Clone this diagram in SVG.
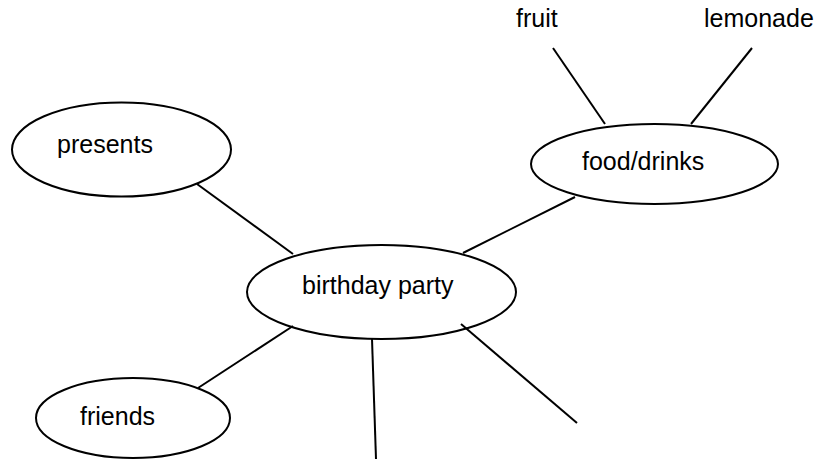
<svg xmlns="http://www.w3.org/2000/svg" width="817" height="459" viewBox="0 0 817 459">
<style>
.n{fill:#fff;stroke:#000;stroke-width:2}
.c line{stroke:#000;stroke-width:2}
text{font-family:"Liberation Sans",Arial,sans-serif;font-size:25px;fill:#000}
</style>
<rect width="817" height="459" fill="#fff"/>
<g id="presents"><ellipse class="n" cx="121.5" cy="149.5" rx="109.5" ry="47"/><text x="57" y="153">presents</text></g>
<g id="birthday-party"><ellipse class="n" cx="381.5" cy="292" rx="134.5" ry="47"/><text x="302" y="294">birthday party</text></g>
<g id="food-drinks"><ellipse class="n" cx="654.5" cy="164" rx="123.5" ry="40"/><text x="582" y="170">food/drinks</text></g>
<g id="friends"><ellipse class="n" cx="133" cy="418" rx="97" ry="40"/><text x="80" y="425">friends</text></g>
<g id="fruit"><text x="516" y="27">fruit</text></g>
<g id="lemonade"><text x="704" y="27">lemonade</text></g>
<g id="connectors" class="c">
<line x1="197" y1="184" x2="293" y2="254"/>
<line x1="575" y1="197" x2="463" y2="253"/>
<line x1="553" y1="48" x2="605" y2="124"/>
<line x1="752" y1="48" x2="691" y2="124"/>
<line x1="198" y1="388" x2="293" y2="326"/>
<line x1="372" y1="339" x2="376" y2="459"/>
<line x1="461" y1="324" x2="577" y2="423"/>
</g>
</svg>
